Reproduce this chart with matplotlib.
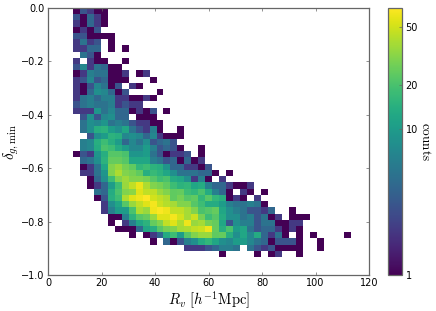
import numpy as np
import matplotlib
matplotlib.use('Agg')
import matplotlib.pyplot as plt
from matplotlib.colors import LogNorm

plt.rcParams['mathtext.fontset'] = 'cm'

# Histogram counts, one list per y bin (top to bottom), 0 = empty
counts_rows = [
    [1, 3, 2, 1, 1],
    [3, 1, 4, 2, 1],
    [2, 1, 4, 2, 1],
    [1, 2, 1, 3],
    [3, 3, 1, 1, 1, 1],
    [2, 5, 2, 3, 0, 1],
    [2, 2, 4, 4, 0, 1, 0, 1],
    [0, 5, 3, 1],
    [2, 0, 2, 1, 1, 0, 0, 1],
    [3, 7, 2, 5, 4, 1, 1],
    [1, 2, 6, 5, 5, 1, 1, 2, 0, 1, 2],
    [2, 3, 7, 3, 4, 1, 1, 1, 0, 0, 0, 1],
    [2, 1, 3, 7, 5, 1, 3, 0, 2, 1],
    [2, 1, 4, 8, 7, 4, 1, 3, 0, 0, 0, 0, 1],
    [2, 5, 6, 4, 6, 6, 2, 2, 1, 1, 2, 1],
    [3, 5, 6, 5, 5, 6, 2, 3, 2, 2],
    [2, 2, 2, 9, 5, 7, 4, 4, 1, 2, 1, 3, 0, 1],
    [0, 3, 8, 3, 7, 8, 4, 4, 0, 1, 1, 1],
    [0, 5, 8, 7, 9, 5, 6, 5, 3, 2, 2, 1, 1],
    [0, 5, 8, 14, 15, 10, 8, 12, 5, 3, 2, 6, 1, 0, 0, 1],
    [0, 0, 3, 8, 10, 15, 14, 7, 8, 7, 4, 7, 2, 1, 1, 1],
    [0, 6, 7, 14, 18, 14, 10, 4, 7, 5, 8, 3, 4, 5, 3],
    [0, 6, 7, 13, 20, 18, 13, 10, 7, 7, 10, 6, 3, 4, 3, 1, 0, 0, 1],
    [1, 3, 2, 9, 14, 22, 22, 20, 9, 9, 10, 5, 3, 1, 2, 2, 3, 0, 1],
    [0, 4, 5, 8, 15, 25, 25, 22, 12, 12, 12, 6, 5, 3, 4, 1, 4, 1, 2],
    [0, 1, 2, 5, 12, 30, 35, 28, 24, 16, 18, 15, 14, 9, 4, 4, 2, 2, 1, 3],
    [0, 2, 2, 5, 9, 30, 40, 30, 28, 24, 14, 17, 15, 12, 8, 5, 5, 5, 4, 4, 1, 0, 1],
    [0, 0, 1, 4, 8, 18, 30, 36, 30, 30, 28, 22, 18, 20, 13, 12, 8, 2, 6, 1, 0, 2],
    [0, 0, 1, 2, 4, 10, 18, 35, 45, 58, 40, 30, 28, 24, 18, 15, 16, 12, 13, 6, 4, 4, 2, 1, 1, 2],
    [0, 0, 0, 5, 4, 13, 20, 30, 32, 55, 45, 45, 35, 30, 24, 25, 18, 16, 20, 13, 6, 4, 1, 0, 2, 1, 0, 1],
    [0, 0, 0, 1, 3, 14, 18, 40, 55, 60, 67, 50, 45, 40, 24, 28, 22, 24, 16, 22, 16, 14, 1, 2, 1, 0, 2],
    [0, 0, 0, 0, 2, 8, 12, 22, 35, 45, 55, 62, 48, 42, 38, 30, 30, 22, 18, 13, 13, 10, 6, 5, 5, 6, 5, 1],
    [0, 0, 0, 0, 2, 6, 10, 10, 20, 40, 35, 60, 65, 60, 45, 45, 38, 30, 20, 22, 25, 12, 8, 6, 5, 3, 3, 2, 4, 0, 0, 1],
    [0, 0, 0, 0, 0, 1, 1, 6, 15, 22, 25, 35, 55, 55, 62, 50, 38, 48, 28, 18, 22, 13, 8, 8, 5, 6, 3, 5, 1, 2, 0, 1, 1, 1],
    [0, 0, 0, 0, 0, 1, 0, 2, 6, 12, 15, 25, 30, 45, 55, 40, 60, 35, 38, 28, 25, 12, 3, 8, 6, 6, 3, 5, 5, 1, 1, 2, 2],
    [0, 0, 0, 0, 0, 0, 1, 1, 1, 4, 12, 14, 22, 28, 30, 38, 40, 45, 48, 60, 25, 14, 20, 10, 12, 5, 3, 4, 4, 2, 1, 2, 1],
    [0, 0, 0, 0, 0, 0, 0, 0, 1, 0, 1, 2, 4, 13, 18, 10, 22, 30, 35, 35, 24, 25, 14, 8, 12, 7, 13, 4, 2, 5, 1, 0, 1, 0, 1, 0, 0, 0, 0, 1],
    [0, 0, 0, 0, 0, 0, 0, 0, 0, 0, 0, 1, 0, 4, 1, 3, 6, 8, 13, 16, 12, 8, 7, 10, 10, 7, 5, 4, 1, 3, 3, 3, 1, 0, 0, 1],
    [0, 0, 0, 0, 0, 0, 0, 0, 0, 0, 0, 0, 0, 0, 0, 0, 2, 2, 2, 3, 4, 6, 6, 5, 0, 5, 3, 2, 3, 1, 1, 1, 1, 0, 0, 1],
    [0, 0, 0, 0, 0, 0, 0, 0, 0, 0, 0, 0, 0, 0, 0, 0, 0, 0, 0, 0, 0, 1, 0, 0, 0, 0, 1, 0, 1, 2, 0, 0, 1],
]
x_ticks = [0, 20, 40, 60, 80, 100, 120]
y_ticks = [0.0, -0.2, -0.4, -0.6, -0.8, -1.0]
cbar_ticks = [1, 10, 20, 50]

n_bins = 40
counts = np.zeros((n_bins, n_bins))
for i, row in enumerate(counts_rows):
    counts[i, :len(row)] = row
counts = np.ma.masked_equal(counts, 0)

x_edges = np.linspace(9.35, 113.4, n_bins + 1)
y_edges = np.linspace(0, -0.933, n_bins + 1)

spine_color = '#666666'

fig = plt.figure(figsize=(4.36, 3.11), dpi=100)
ax = fig.add_axes([48 / 436, 1 - 275 / 311, (369 - 48) / 436, (275 - 8) / 311])
mesh = ax.pcolormesh(x_edges, y_edges, counts, cmap='viridis', norm=LogNorm(vmin=1, vmax=67))

ax.set_xlim(0, 120)
ax.set_ylim(-1, 0)
ax.set_xticks(x_ticks)
ax.set_yticks(y_ticks)
ax.tick_params(direction='in', top=True, right=True, length=2.5, width=0.5,
               labelsize=7, pad=2.5, color=spine_color)
for s in ax.spines.values():
    s.set_color(spine_color)
    s.set_linewidth(0.9)
ax.set_xlabel(r'$R_v\ [h^{-1}{\rm Mpc}]$', fontsize=10.5, labelpad=0.5)
ax.set_ylabel(r'$\delta_{g,{\rm min}}$', fontsize=11, labelpad=0)

cax = fig.add_axes([388 / 436, 1 - 275 / 311, 14 / 436, (275 - 8) / 311])
cb = fig.colorbar(mesh, cax=cax)
cb.set_ticks(cbar_ticks)
cb.set_ticklabels([str(t) for t in cbar_ticks])
cb.ax.minorticks_off()
cb.ax.tick_params(direction='in', length=2.5, width=0.5, labelsize=7, pad=2.5, color=spine_color)
cb.outline.set_edgecolor(spine_color)
cb.outline.set_linewidth(0.9)
cb.set_label(r'${\rm counts}$', rotation=270, fontsize=9.5, labelpad=10)

fig.savefig('out.png', dpi=100)
